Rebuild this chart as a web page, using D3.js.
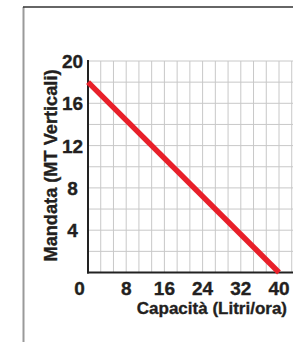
<!DOCTYPE html>
<html>
<head>
<meta charset="utf-8">
<script src="https://cdn.jsdelivr.net/npm/d3@7"></script>
<style>
body{margin:0;background:#fff;}
text{font-family:"Liberation Sans",Arial,sans-serif;font-weight:bold;fill:#231f20;stroke:#231f20;stroke-width:0.35px;}
</style>
</head>
<body>
<script>
// values
let xTicks=[0,8,16,24,32,40]
let yTicks=[4,8,12,16,20]
let curveX=[0,40]
let curveY=[18,0]
let xTitle='Capacità (Litri/ora)'
let yTitle='Mandata (MT Verticali)'

var W=293,H=342
var svg=d3.select('body').append('svg').attr('width',W).attr('height',H)

// frame
svg.append('line').attr('x1',23.5).attr('x2',23.5).attr('y1',7).attr('y2',H)
  .attr('stroke','#9a9a9a').attr('stroke-width',2)
svg.append('line').attr('x1',23).attr('x2',W).attr('y1',7).attr('y2',7)
  .attr('stroke','#333').attr('stroke-width',1.5)

var x=d3.scaleLinear().domain([0,40]).range([88,279])
var y=d3.scaleLinear().domain([0,20]).range([272.5,61])

// grid: 15 columns over 0..40, plus one beyond
var gx=d3.range(0,17).map(function(i){return i*40/15})
var gy=d3.range(0,11).map(function(i){return i*2})
svg.selectAll('.gx').data(gx).enter().append('line')
  .attr('x1',function(d){return x(d)}).attr('x2',function(d){return x(d)})
  .attr('y1',y(20)).attr('y2',y(0))
  .attr('stroke','#c8c8c8').attr('stroke-width',1)
svg.selectAll('.gy').data(gy).enter().append('line')
  .attr('x1',x(0)).attr('x2',W)
  .attr('y1',function(d){return y(d)}).attr('y2',function(d){return y(d)})
  .attr('stroke','#c8c8c8').attr('stroke-width',1)

// axes
svg.append('line').attr('x1',x(0)).attr('x2',x(0)).attr('y1',y(20)-1).attr('y2',y(0)+1)
  .attr('stroke','#222').attr('stroke-width',2)
svg.append('line').attr('x1',x(0)-1).attr('x2',W).attr('y1',y(0)).attr('y2',y(0))
  .attr('stroke','#222').attr('stroke-width',2)

// red line
var pts=curveX.map(function(d,i){return [d,curveY[i]]})
var line=d3.line().x(function(d){return x(d[0])}).y(function(d){return y(d[1])})
svg.append('path').attr('d',line(pts)).attr('fill','none')
  .attr('stroke','#e8202a').attr('stroke-width',5.5)

// tick labels
svg.selectAll('.yl').data(yTicks).enter().append('text')
  .attr('x',72.5).attr('y',function(d){return y(d)+7})
  .attr('text-anchor','middle').style('font-size','19px')
  .text(function(d){return d})
svg.selectAll('.xl').data(xTicks).enter().append('text')
  .attr('x',function(d){return d==0?x(d)-8.5:x(d)}).attr('y',295)
  .attr('text-anchor','middle').style('font-size','19px')
  .text(function(d){return d})

// titles
svg.append('text').attr('x',287).attr('y',313.5).attr('text-anchor','end')
  .style('font-size','17px').text(xTitle)
svg.append('text').attr('transform','translate(57,165.5) rotate(-90)')
  .attr('text-anchor','middle').style('font-size','18.2px').text(yTitle)
</script>
</body>
</html>
